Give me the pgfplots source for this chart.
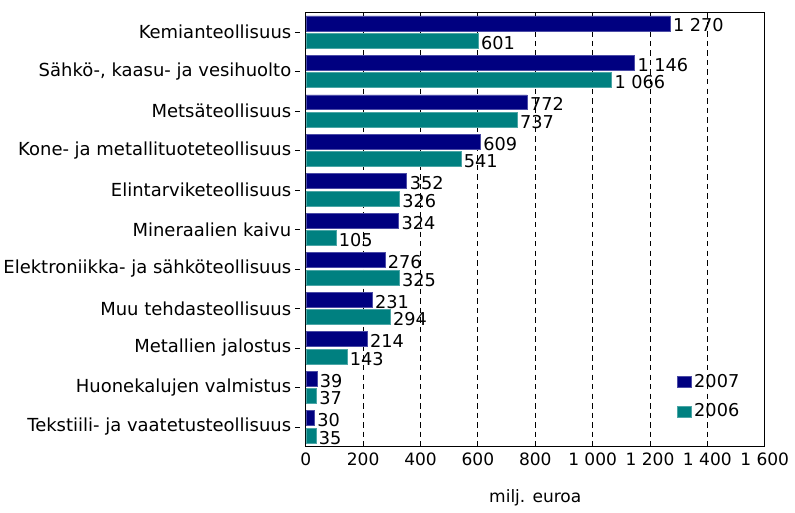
\documentclass[border=0pt]{standalone}
\usepackage{fontspec}
\setmainfont{DejaVu Sans}
\usepackage{pgfplots}
\pgfplotsset{compat=1.18}
\definecolor{navybar}{HTML}{000080}
\definecolor{tealbar}{HTML}{008080}

\begin{document}
\fontsize{13pt}{16pt}\selectfont
\begin{tikzpicture}
  \begin{axis}[
      scale only axis,
      width=337pt, height=319pt,
      xbar, bar width=11pt,
      xmin=0, xmax=1600,
      ymin=-0.5, ymax=10.5,
      y dir=reverse,
      xtick={0,200,...,1600},
      xticklabels={0,200,400,600,800,1 000,1 200,1 400,1 600},
      ytick={0,...,10},
      yticklabels={
        {Kemianteollisuus},
        {Sähkö-, kaasu- ja vesihuolto},
        {Metsäteollisuus},
        {Kone- ja metallituoteteollisuus},
        {Elintarviketeollisuus},
        {Mineraalien kaivu},
        {Elektroniikka- ja sähköteollisuus},
        {Muu tehdasteollisuus},
        {Metallien jalostus},
        {Huonekalujen valmistus},
        {Tekstiili- ja vaatetusteollisuus}},
      ytick pos=left,
      major tick length=4pt,
      ytick style={xshift=-4pt},
      yticklabel style={xshift=-4pt, inner xsep=2.5pt,
        font=\fontsize{13.2pt}{16pt}\selectfont},
      xticklabel style={font=\fontsize{12.5pt}{15pt}\selectfont},
      tick style={black, line width=0.6pt},
      axis line style={black, line width=0.6pt},
      xmajorgrids,
      major x grid style={black, line width=0.6pt, dash pattern=on 4pt off 3pt},
      xlabel={milj. euroa},
      xlabel style={yshift=-9pt},
      label style={font=\fontsize{12.5pt}{15pt}\selectfont},
      point meta=x,
      nodes near coords,
      nodes near coords style={font=\fontsize{13pt}{15pt}\selectfont, black,
        inner xsep=2pt, yshift=-1.5pt,
        /pgf/number format/1000 sep={\ },
        /pgf/number format/assume math mode=true},
      legend style={at={(0.96,0.05)}, anchor=south east, draw=none, fill=none,
        font=\fontsize{13pt}{15pt}\selectfont, row sep=6pt},
      legend cell align=left,
      legend image code/.code={\fill[#1] (0pt,-4pt) rectangle (10pt,4pt);},
    ]
    \addplot[fill=navybar, draw=navybar!70!white, bar shift=6.4pt] coordinates {
      (1270,0) (1146,1) (772,2) (609,3) (352,4) (324,5)
      (276,6) (231,7) (214,8) (39,9) (30,10)
    };
    \addplot[fill=tealbar, draw=tealbar!70!white, bar shift=-6.4pt] coordinates {
      (601,0) (1066,1) (737,2) (541,3) (326,4) (105,5)
      (325,6) (294,7) (143,8) (37,9) (35,10)
    };
    \legend{2007,2006}
  \end{axis}
  \path ([yshift=9pt]current axis.north east);
\end{tikzpicture}
\end{document}
